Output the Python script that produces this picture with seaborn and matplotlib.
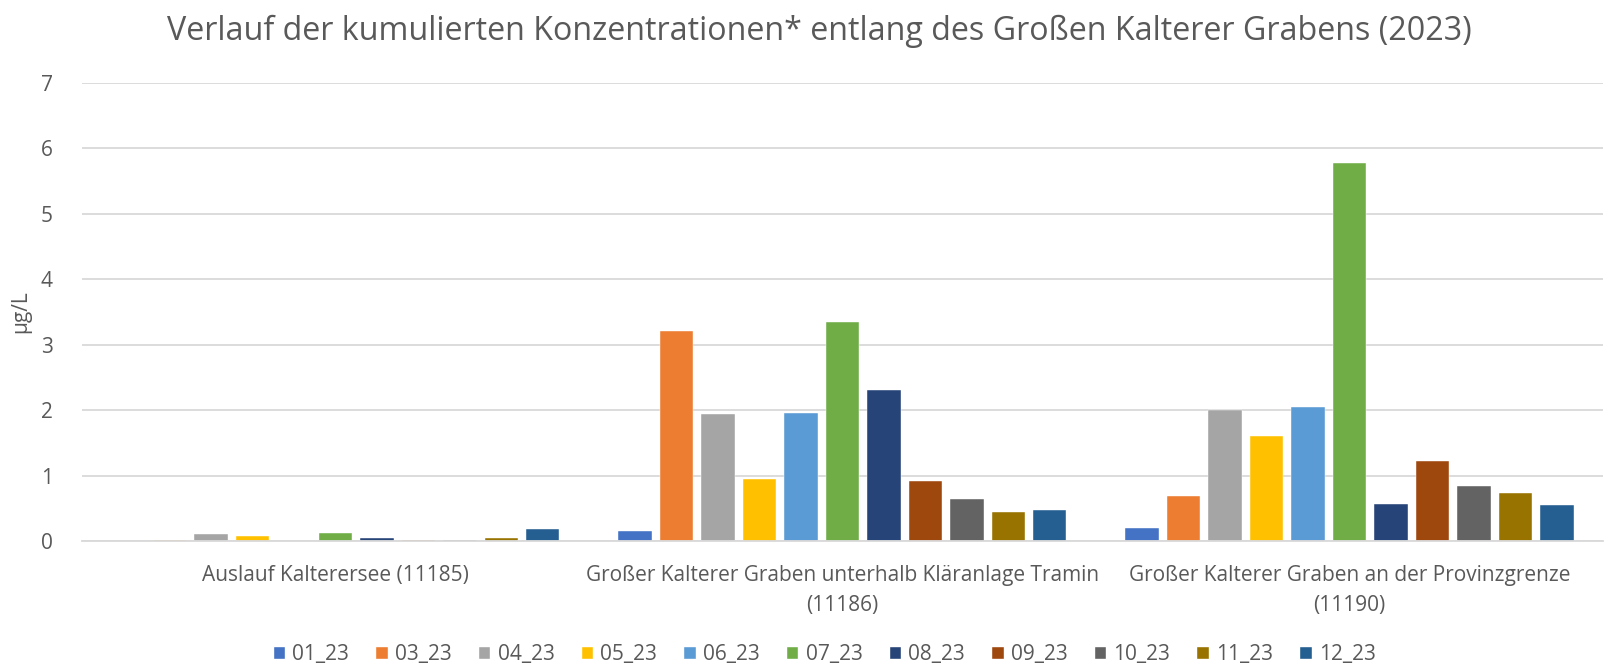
import numpy as np
import pandas as pd
import seaborn as sns
import matplotlib.pyplot as plt
from matplotlib.patches import Patch

# stations (x categories)
stations = ['Auslauf Kalterersee (11185)',
            'Großer Kalterer Graben unterhalb Kläranlage Tramin\n(11186)',
            'Großer Kalterer Graben an der Provinzgrenze\n(11190)']

months = ['01_23', '03_23', '04_23', '05_23', '06_23', '07_23',
          '08_23', '09_23', '10_23', '11_23', '12_23']

# cumulated concentration in µg/L, one value per station
m01 = [np.nan, 0.15, 0.20]
m03 = [0.02, 3.21, 0.69]
m04 = [0.10, 1.94, 2.00]
m05 = [0.07, 0.94, 1.61]
m06 = [np.nan, 1.96, 2.05]
m07 = [0.12, 3.34, 5.77]
m08 = [0.05, 2.30, 0.57]
m09 = [0.02, 0.92, 1.22]
m10 = [0.02, 0.64, 0.84]
m11 = [0.04, 0.44, 0.73]
m12 = [0.19, 0.47, 0.55]

colors = ['#4472C4', '#ED7D31', '#A5A5A5', '#FFC000', '#5B9BD5', '#70AD47',
          '#264478', '#9E480E', '#636363', '#997300', '#255E91']

series = [m01, m03, m04, m05, m06, m07, m08, m09, m10, m11, m12]

rows = []
for month, vals in zip(months, series):
    for station, v in zip(stations, vals):
        rows.append({'station': station, 'month': month, 'value': v})
df = pd.DataFrame(rows).dropna()

sns.set_theme(style='white')
plt.rcParams['font.family'] = ['Open Sans', 'DejaVu Sans']

text_grey = '#595959'
grid_grey = '#D9D9D9'

fig = plt.figure(figsize=(16.13, 6.66), dpi=100)
ax = fig.add_axes([0.0508, 0.1877, 0.943, 0.688])

sns.barplot(data=df, x='station', y='value', hue='month',
            order=stations, hue_order=months, palette=colors, saturation=1,
            width=0.9, gap=0.2, edgecolor='white', linewidth=0.3,
            legend=False, ax=ax)

ax.set_ylim(0, 7)
ax.set_xlim(-0.5, 2.5)
ax.set_yticks(range(8))
ax.yaxis.grid(True, color=grid_grey, linewidth=1.3)
ax.set_axisbelow(True)
for side in ['top', 'right', 'left']:
    ax.spines[side].set_visible(False)
ax.spines['bottom'].set_color(grid_grey)
ax.spines['bottom'].set_linewidth(1.3)

ax.tick_params(axis='both', length=0, labelsize=15, labelcolor=text_grey)
ax.tick_params(axis='x', pad=17)
ax.tick_params(axis='y', pad=21)
for lbl in ax.get_xticklabels():
    lbl.set_linespacing(1.6)
ax.set_xlabel('')
ax.set_ylabel('µg/L', fontsize=15, color=text_grey, labelpad=7)

fig.suptitle('Verlauf der kumulierten Konzentrationen* entlang des Großen Kalterer Grabens (2023)',
             fontsize=23.2, color=text_grey, x=0.508, y=0.978)

handles = [Patch(facecolor=c, label=m) for c, m in zip(colors, months)]
fig.legend(handles=handles, loc='center', bbox_to_anchor=(0.511, 0.018),
           ncol=11, frameon=False, fontsize=15, labelcolor=text_grey,
           handlelength=0.6, handleheight=0.6, handletextpad=0.35,
           columnspacing=1.25)

fig.savefig('out.png', dpi=100, facecolor='white')
